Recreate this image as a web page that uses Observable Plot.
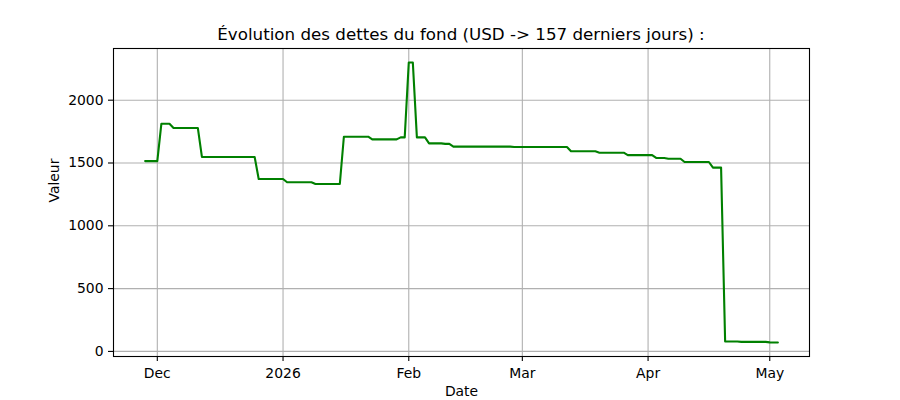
<!DOCTYPE html>
<html>
<head>
<meta charset="utf-8">
<script src="https://cdn.jsdelivr.net/npm/d3@7"></script>
<script src="https://cdn.jsdelivr.net/npm/@observablehq/plot@0.6"></script>
<style>
  html, body { margin: 0; padding: 0; background: #fff; }
  #wrap { width: 900px; height: 400px; font-family: "DejaVu Sans", sans-serif; }
  #title { box-sizing: border-box; width: 900px; height: 48px; padding: 23px 91px 0 113px;
           text-align: center; font-size: 16.7px; line-height: 22px; color: #000; white-space: nowrap; }
  svg { display: block; }
</style>
</head>
<body>
<div id="wrap">
  <div id="title">Évolution des dettes du fond (USD -&gt; 157 derniers jours) :</div>
  <div id="chart"></div>
</div>
<script>
// Dates (change points) and debt values
const dates = [
  "2025-11-28","2025-12-01","2025-12-02","2025-12-04","2025-12-05","2025-12-11","2025-12-12",
  "2025-12-25","2025-12-26","2026-01-01","2026-01-02","2026-01-08","2026-01-09","2026-01-15",
  "2026-01-16","2026-01-22","2026-01-23","2026-01-29","2026-01-30","2026-01-31","2026-02-01",
  "2026-02-02","2026-02-03","2026-02-05","2026-02-06","2026-02-09","2026-02-10","2026-02-11",
  "2026-02-12","2026-02-26","2026-02-27","2026-03-12","2026-03-13","2026-03-19","2026-03-20",
  "2026-03-26","2026-03-27","2026-04-02","2026-04-03","2026-04-05","2026-04-06","2026-04-09",
  "2026-04-10","2026-04-16","2026-04-17","2026-04-19","2026-04-20","2026-04-23","2026-04-24",
  "2026-04-30","2026-05-01","2026-05-03"
];
const values = [
  1515,1515,1812,1812,1778,1778,1548,
  1548,1373,1373,1347,1347,1333,1333,
  1709,1709,1688,1688,1704,1704,2300,
  2300,1704,1704,1656,1656,1652,1652,
  1630,1630,1627,1627,1593,1593,1582,
  1582,1563,1563,1540,1540,1534,1534,
  1508,1508,1463,1463,79,79,76,
  76,72,71
];
const tickDates = ["2025-12-01","2026-01-01","2026-02-01","2026-03-01","2026-04-01","2026-05-01"];
const tickLabels = ["Dec","2026","Feb","Mar","Apr","May"];
const yTicks = [0, 500, 1000, 1500, 2000];

const data = dates.map((d, i) => ({date: new Date(d + "T00:00:00Z"), value: values[i]}));
const xt = tickDates.map(d => new Date(d + "T00:00:00Z"));
const labelOf = new Map(xt.map((d, i) => [+d, tickLabels[i]]));

// matplotlib-like 5% margins
const [x0, x1] = d3.extent(data, d => +d.date);
const xpad = (x1 - x0) * 0.05;
const [y0, y1] = d3.extent(data, d => d.value);
const ypad = (y1 - y0) * 0.05;

const font = "DejaVu Sans, sans-serif";
const chart = Plot.plot({
  width: 900,
  height: 352,
  marginTop: 0,
  marginLeft: 113,
  marginRight: 91,
  marginBottom: 44,
  style: {fontFamily: font, fontSize: "13.9px", color: "#000", background: "#fff", overflow: "visible"},
  x: {type: "utc", domain: [new Date(x0 - xpad), new Date(x1 + xpad)]},
  y: {domain: [y0 - ypad, y1 + ypad]},
  marks: [
    Plot.gridX(xt, {stroke: "#b0b0b0", strokeOpacity: 1, strokeWidth: 1.1}),
    Plot.gridY(yTicks, {stroke: "#b0b0b0", strokeOpacity: 1, strokeWidth: 1.1}),
    Plot.line(data, {x: "date", y: "value", stroke: "green", strokeWidth: 2.1}),
    Plot.frame({stroke: "#000", strokeWidth: 1.1}),
    Plot.axisX(xt, {tickSize: 5, tickPadding: 7, tickFormat: d => labelOf.get(+d), label: null, fontSize: 13.9, strokeWidth: 1.1}),
    Plot.axisY(yTicks, {tickSize: 5, tickPadding: 5, tickFormat: d => String(d), label: null, fontSize: 13.9, strokeWidth: 1.1}),
    Plot.text(["Date"], {frameAnchor: "bottom", dy: 39, fontSize: 13.9, fill: "#000"}),
    Plot.text(["Valeur"], {frameAnchor: "left", dx: -59, rotate: -90, fontSize: 13.9, fill: "#000"})
  ]
});
document.getElementById("chart").appendChild(chart);
</script>
</body>
</html>
